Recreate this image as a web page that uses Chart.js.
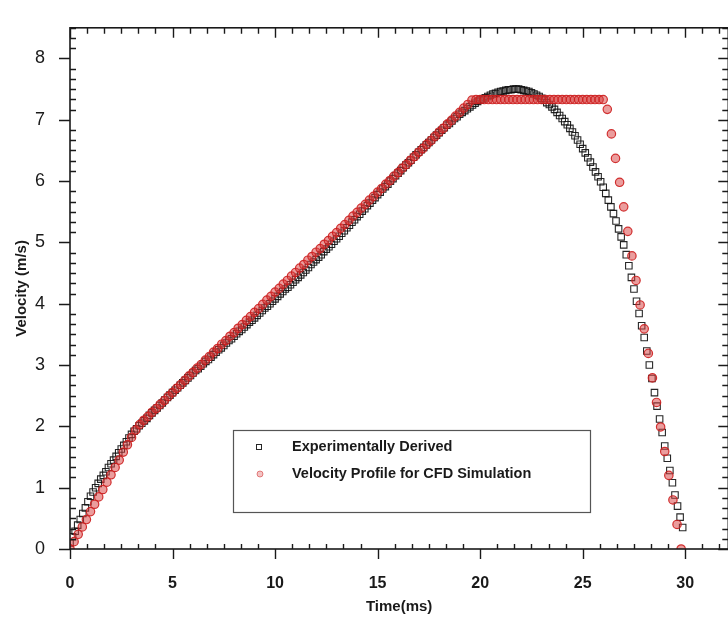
<!DOCTYPE html>
<html>
<head>
<meta charset="utf-8">
<script src="https://cdn.jsdelivr.net/npm/chart.js@4.4.1/dist/chart.umd.min.js"></script>
<style>
  html, body { margin: 0; padding: 0; background: #fff; overflow: hidden; }
  #wrap { width: 734px; height: 624px; }
</style>
</head>
<body>
<div id="wrap"><canvas id="velChart" width="734" height="624"></canvas></div>
<script>
// Experimentally derived velocity (m/s), sampled every 0.125 ms from 0 ms (one row per ms)
const expStartMs = 0;
const expStepMs = 0.125;
const experimental = [
  0.10, 0.20, 0.29, 0.39, 0.48, 0.58, 0.67, 0.77,
  0.86, 0.93, 1.00, 1.07, 1.14, 1.20, 1.26, 1.33,
  1.39, 1.45, 1.51, 1.57, 1.63, 1.69, 1.75, 1.81,
  1.87, 1.92, 1.96, 2.01, 2.05, 2.09, 2.13, 2.18,
  2.22, 2.26, 2.30, 2.34, 2.38, 2.43, 2.47, 2.51,
  2.55, 2.59, 2.63, 2.67, 2.71, 2.75, 2.79, 2.83,
  2.87, 2.91, 2.94, 2.98, 3.02, 3.06, 3.09, 3.13,
  3.17, 3.21, 3.25, 3.28, 3.32, 3.36, 3.40, 3.43,
  3.47, 3.51, 3.55, 3.58, 3.62, 3.66, 3.70, 3.73,
  3.77, 3.81, 3.85, 3.89, 3.93, 3.96, 4.00, 4.04,
  4.08, 4.12, 4.16, 4.20, 4.24, 4.27, 4.31, 4.35,
  4.39, 4.43, 4.47, 4.51, 4.55, 4.59, 4.64, 4.68,
  4.72, 4.76, 4.80, 4.85, 4.89, 4.93, 4.97, 5.02,
  5.06, 5.10, 5.15, 5.19, 5.24, 5.28, 5.33, 5.37,
  5.42, 5.46, 5.51, 5.55, 5.60, 5.64, 5.69, 5.73,
  5.78, 5.82, 5.87, 5.91, 5.95, 6.00, 6.04, 6.09,
  6.13, 6.17, 6.22, 6.26, 6.30, 6.34, 6.39, 6.43,
  6.47, 6.51, 6.55, 6.59, 6.63, 6.67, 6.71, 6.75,
  6.79, 6.83, 6.87, 6.91, 6.94, 6.98, 7.02, 7.05,
  7.09, 7.12, 7.15, 7.18, 7.21, 7.24, 7.27, 7.30,
  7.32, 7.34, 7.36, 7.38, 7.40, 7.42, 7.43, 7.45,
  7.46, 7.47, 7.48, 7.49, 7.49, 7.50, 7.50, 7.50,
  7.49, 7.48, 7.47, 7.46, 7.44, 7.42, 7.40, 7.38,
  7.35, 7.32, 7.28, 7.25, 7.21, 7.17, 7.12, 7.07,
  7.02, 6.97, 6.92, 6.86, 6.80, 6.74, 6.67, 6.60,
  6.53, 6.46, 6.38, 6.31, 6.23, 6.15, 6.07, 5.99,
  5.90, 5.80, 5.69, 5.58, 5.47, 5.35, 5.22, 5.09,
  4.96, 4.80, 4.62, 4.43, 4.24, 4.04, 3.84, 3.64,
  3.45, 3.23, 3.00, 2.78, 2.55, 2.33, 2.12, 1.90,
  1.68, 1.48, 1.28, 1.08, 0.88, 0.70, 0.52, 0.35
];

// Velocity profile used for the CFD simulation (m/s), every 0.2 ms from 0 ms (one row per 2 ms)
const cfdStartMs = 0;
const cfdStepMs = 0.2;
const cfdProfile = [
  0.00, 0.12, 0.24, 0.36, 0.48, 0.61, 0.73, 0.85, 0.97, 1.09,
  1.21, 1.33, 1.45, 1.58, 1.70, 1.82, 1.94, 2.03, 2.10, 2.16,
  2.23, 2.29, 2.36, 2.42, 2.49, 2.55, 2.62, 2.68, 2.75, 2.82,
  2.88, 2.95, 3.01, 3.08, 3.14, 3.21, 3.27, 3.34, 3.40, 3.47,
  3.53, 3.60, 3.66, 3.73, 3.79, 3.86, 3.92, 3.99, 4.06, 4.12,
  4.19, 4.25, 4.32, 4.38, 4.45, 4.51, 4.58, 4.64, 4.71, 4.77,
  4.84, 4.90, 4.97, 5.03, 5.10, 5.16, 5.23, 5.29, 5.36, 5.43,
  5.49, 5.56, 5.62, 5.69, 5.75, 5.82, 5.88, 5.95, 6.01, 6.08,
  6.14, 6.21, 6.27, 6.34, 6.40, 6.47, 6.53, 6.60, 6.66, 6.73,
  6.80, 6.86, 6.93, 6.99, 7.06, 7.12, 7.19, 7.25, 7.32, 7.33,
  7.33, 7.33, 7.33, 7.33, 7.33, 7.33, 7.33, 7.33, 7.33, 7.33,
  7.33, 7.33, 7.33, 7.33, 7.33, 7.33, 7.33, 7.33, 7.33, 7.33,
  7.33, 7.33, 7.33, 7.33, 7.33, 7.33, 7.33, 7.33, 7.33, 7.33,
  7.33, 7.17, 6.77, 6.37, 5.98, 5.58, 5.18, 4.78, 4.38, 3.98,
  3.59, 3.19, 2.79, 2.39, 1.99, 1.59, 1.20, 0.80, 0.40, 0.00
];

const seriesNames = ['Experimentally Derived', 'Velocity Profile for CFD Simulation'];
const xTickValues = [0, 5, 10, 15, 20, 25, 30];
const yTickValues = [0, 1, 2, 3, 4, 5, 6, 7, 8];
const minorPerMajor = 5; // Origin style: 5 minor ticks between majors

const expColor = 'rgba(15, 15, 15, 0.9)';
const cfdColor = 'rgba(205, 30, 30, 0.9)';
const cfdFill = 'rgba(215, 60, 60, 0.5)';
const fontFamily = '"Liberation Sans", Arial, sans-serif';

function toPoints(start, step, ys) {
  return ys.map((v, i) => ({ x: start + i * step, y: v }));
}

// frame on all four sides, with Origin-like ticks
const frameTicks = {
  id: 'frameTicks',
  afterDatasetsDraw(chart) {
    const { ctx, chartArea: a, scales: { x, y } } = chart;
    ctx.save();
    ctx.strokeStyle = '#1a1a1a';
    ctx.lineWidth = 1.6;
    ctx.strokeRect(a.left, a.top, a.right - a.left, a.bottom - a.top);

    ctx.lineWidth = 1.4;
    const xStep = xTickValues[1] - xTickValues[0];
    const yStep = yTickValues[1] - yTickValues[0];
    ctx.beginPath();
    for (let i = 0; i * xStep / (minorPerMajor + 1) <= x.max + 1e-9; i++) {
      const v = i * xStep / (minorPerMajor + 1);
      const px = Math.round(x.getPixelForValue(v)) + 0.5;
      if (i % (minorPerMajor + 1) === 0) {
        ctx.moveTo(px, a.bottom); ctx.lineTo(px, a.bottom + 10);
        ctx.moveTo(px, a.top); ctx.lineTo(px, a.top + 10);
      } else {
        ctx.moveTo(px, a.bottom); ctx.lineTo(px, a.bottom - 5);
        ctx.moveTo(px, a.top); ctx.lineTo(px, a.top + 6);
      }
    }
    for (let i = 0; i * yStep / (minorPerMajor + 1) <= y.max + 1e-9; i++) {
      const v = i * yStep / (minorPerMajor + 1);
      const py = Math.round(y.getPixelForValue(v)) + 0.5;
      if (i % (minorPerMajor + 1) === 0) {
        ctx.moveTo(a.left, py); ctx.lineTo(a.left - 11, py);
        ctx.moveTo(a.right, py); ctx.lineTo(a.right - 10, py);
      } else {
        ctx.moveTo(a.left, py); ctx.lineTo(a.left + 6, py);
        ctx.moveTo(a.right, py); ctx.lineTo(a.right - 6, py);
      }
    }
    ctx.stroke();
    ctx.restore();
  }
};

// legend box inside the plot, like the original
const boxLegend = {
  id: 'boxLegend',
  afterDraw(chart) {
    const { ctx } = chart;
    const box = { left: 233, top: 430, right: 590, bottom: 512 };
    ctx.save();
    ctx.fillStyle = '#fff';
    ctx.fillRect(box.left, box.top, box.right - box.left, box.bottom - box.top);
    ctx.strokeStyle = '#555';
    ctx.lineWidth = 1.2;
    ctx.strokeRect(box.left + 0.5, box.top + 0.5, box.right - box.left, box.bottom - box.top);

    const rows = [447, 474];
    ctx.strokeStyle = expColor;
    ctx.lineWidth = 1;
    ctx.strokeRect(256.5, rows[0] - 2.5, 5, 5);
    ctx.beginPath();
    ctx.arc(260, rows[1], 3, 0, Math.PI * 2);
    ctx.fillStyle = 'rgba(215, 60, 60, 0.3)';
    ctx.fill();
    ctx.strokeStyle = 'rgba(205, 30, 30, 0.5)';
    ctx.stroke();

    ctx.fillStyle = '#1a1a1a';
    ctx.font = 'bold 14.5px ' + fontFamily;
    ctx.textBaseline = 'middle';
    ctx.textAlign = 'left';
    seriesNames.forEach((name, i) => ctx.fillText(name, 292, rows[i]));
    ctx.restore();
  }
};

document.addEventListener('DOMContentLoaded', function () {
  const ctx = document.getElementById('velChart').getContext('2d');

  new Chart(ctx, {
    type: 'scatter',
    data: {
      datasets: [
        {
          label: seriesNames[0],
          data: toPoints(expStartMs, expStepMs, experimental),
          pointStyle: 'rect',
          pointRadius: 4.6,
          pointBorderWidth: 1.1,
          borderColor: expColor,
          backgroundColor: 'rgba(0,0,0,0)',
          order: 1
        },
        {
          label: seriesNames[1],
          data: toPoints(cfdStartMs, cfdStepMs, cfdProfile),
          pointStyle: 'circle',
          pointRadius: 4.2,
          pointBorderWidth: 1.2,
          borderColor: cfdColor,
          backgroundColor: cfdFill,
          order: 0
        }
      ]
    },
    options: {
      responsive: false,
      animation: false,
      layout: { padding: { top: 15, right: 4, left: 0, bottom: 0 } },
      plugins: {
        legend: { display: false },
        tooltip: { enabled: false }
      },
      scales: {
        x: {
          type: 'linear',
          min: 0,
          max: 32.1,
          afterBuildTicks: (s) => { s.ticks = xTickValues.map(v => ({ value: v })); },
          afterFit: (s) => { s.height = 75; },
          grid: { display: false },
          border: { display: false },
          ticks: {
            padding: 17,
            color: '#1a1a1a',
            font: { family: fontFamily, size: 16, weight: 'bold' }
          },
          title: {
            display: true,
            text: 'Time(ms)',
            color: '#1a1a1a',
            font: { family: fontFamily, size: 15, weight: 'bold' },
            padding: { top: 0, bottom: 8 }
          }
        },
        y: {
          type: 'linear',
          min: 0,
          max: 8.5,
          afterBuildTicks: (s) => { s.ticks = yTickValues.map(v => ({ value: v })); },
          afterFit: (s) => { s.width = 70; },
          grid: { display: false },
          border: { display: false },
          ticks: {
            padding: 17,
            color: '#1a1a1a',
            font: { family: fontFamily, size: 18 }
          },
          title: {
            display: true,
            text: 'Velocity (m/s)',
            color: '#1a1a1a',
            font: { family: fontFamily, size: 15, weight: 'bold' },
            padding: { top: 13, bottom: 0 }
          }
        }
      }
    },
    plugins: [frameTicks, boxLegend]
  });
});
</script>
</body>
</html>
